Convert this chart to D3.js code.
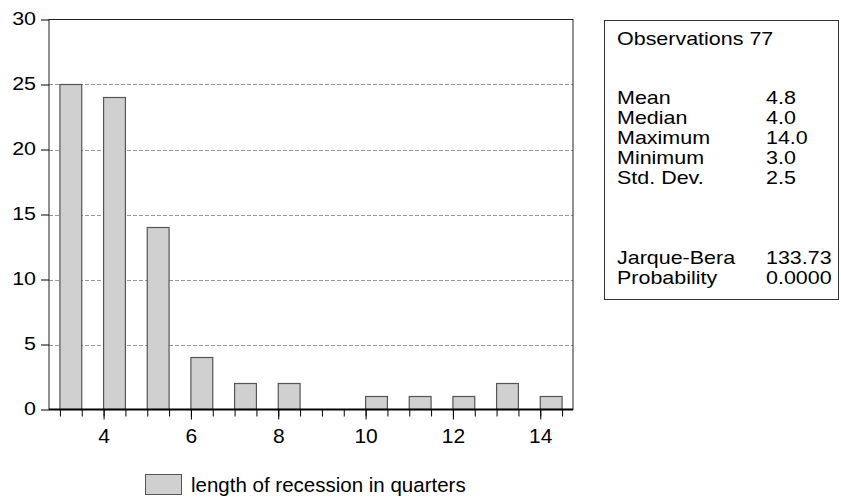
<!DOCTYPE html>
<html lang="en">
<head>
<meta charset="UTF-8">
<title>Histogram - length of recession</title>
<script src="https://d3js.org/d3.v7.min.js"></script>
<style>
    body { margin: 0; background: #fff; }
    svg text { font-family: "Liberation Sans", Arial, sans-serif; fill: #000; }
</style>
</head>
<body>
<div id="chart"></div>
<script>
// histogram bins (quarters) and their counts
const lengths = [3, 4, 5, 6, 7, 8, 9, 10, 11, 12, 13, 14];
const counts = [25, 24, 14, 4, 2, 2, 0, 1, 1, 1, 2, 1];
const yTicks = [0, 5, 10, 15, 20, 25, 30];
const xTicks = [4, 6, 8, 10, 12, 14];
const seriesName = "length of recession in quarters";

// descriptive statistics box
const nObs = 77;
const statLabels = ["Mean", "Median", "Maximum", "Minimum", "Std. Dev."];
const statValues = ["4.8", "4.0", "14.0", "3.0", "2.5"];
const testLabels = ["Jarque-Bera", "Probability"];
const testValues = ["133.73", "0.0000"];

const W = 841, H = 500;
const svg = d3.select("#chart").append("svg")
    .attr("width", W)
    .attr("height", H);

const pLeft = 49, pRight = 573, pTop = 19.5, pBottom = 409.5;
const x = d3.scaleLinear().domain([2.75, 14.75]).range([pLeft, pRight]);
const y = d3.scaleLinear().domain([0, 30]).range([pBottom, pTop]);

// the original text is drawn a little wider than it is tall
const sx = 1.13;

// grid lines
svg.append("g")
    .selectAll("line")
    .data(yTicks.filter(d => d > 0 && d < 30))
    .join("line")
    .attr("x1", pLeft).attr("x2", pRight)
    .attr("y1", d => Math.round(y(d)) + 0.5)
    .attr("y2", d => Math.round(y(d)) + 0.5)
    .attr("stroke", "#9a9a9a")
    .attr("stroke-dasharray", "4,2");

// bars
svg.append("g")
    .selectAll("rect")
    .data(lengths.map((v, i) => ({ v, n: counts[i] })).filter(d => d.n > 0))
    .join("rect")
    .attr("x", d => x(d.v))
    .attr("y", d => y(d.n))
    .attr("width", d => x(d.v + 0.5) - x(d.v))
    .attr("height", d => y(0) - y(d.n))
    .attr("fill", "#d0d0d0")
    .attr("stroke", "#555")
    .attr("stroke-width", 1.2);

// frame
svg.append("rect")
    .attr("x", pLeft).attr("y", pTop)
    .attr("width", pRight - pLeft).attr("height", pBottom - pTop)
    .attr("fill", "none")
    .attr("stroke", "#222");
svg.append("line")
    .attr("x1", pLeft).attr("x2", pRight)
    .attr("y1", pBottom).attr("y2", pBottom)
    .attr("stroke", "#000")
    .attr("stroke-width", 2);

// y axis
const yAxis = svg.append("g")
    .attr("transform", `translate(${pLeft},0)`)
    .call(d3.axisLeft(y).tickValues(yTicks).tickSize(8).tickPadding(5));
yAxis.select(".domain").remove();
yAxis.selectAll("text")
    .attr("font-size", 19)
    .attr("x", -13 / sx)
    .attr("dy", "0.28em")
    .attr("transform", `scale(${sx},1)`);

// x axis: minor ticks at every half unit, labelled ticks at even values
const xMinor = svg.append("g")
    .attr("transform", `translate(0,${pBottom})`)
    .call(d3.axisBottom(x).tickValues(d3.range(3, 15, 0.5)).tickSize(7).tickFormat(""));
xMinor.select(".domain").remove();

const xAxis = svg.append("g")
    .attr("transform", `translate(0,${pBottom})`)
    .call(d3.axisBottom(x).tickValues(xTicks).tickSize(10).tickPadding(9));
xAxis.select(".domain").remove();
xAxis.selectAll("text").attr("font-size", 21);

// statistics box
const box = svg.append("g");
box.append("rect")
    .attr("x", 604.5).attr("y", 20.5)
    .attr("width", 234).attr("height", 279)
    .attr("fill", "#fff")
    .attr("stroke", "#333");

const colA = 617, colB = 766, fs = 19;
function boxText(tx, ty, s) {
    box.append("text")
        .attr("transform", `translate(${tx},${ty}) scale(${sx},1)`)
        .attr("font-size", fs)
        .text(s);
}

boxText(colA, 45, "Observations " + nObs);
statLabels.forEach((d, i) => {
    boxText(colA, 104 + i * 20, d);
    boxText(colB, 104 + i * 20, statValues[i]);
});
testLabels.forEach((d, i) => {
    boxText(colA, 264 + i * 20, d);
    boxText(colB, 264 + i * 20, testValues[i]);
});

// legend
svg.append("rect")
    .attr("x", 145.5).attr("y", 474.5)
    .attr("width", 36).attr("height", 20)
    .attr("fill", "#d0d0d0")
    .attr("stroke", "#555");
svg.append("text")
    .attr("x", 191).attr("y", 492)
    .attr("font-size", 20.5)
    .text(seriesName);
</script>
</body>
</html>
